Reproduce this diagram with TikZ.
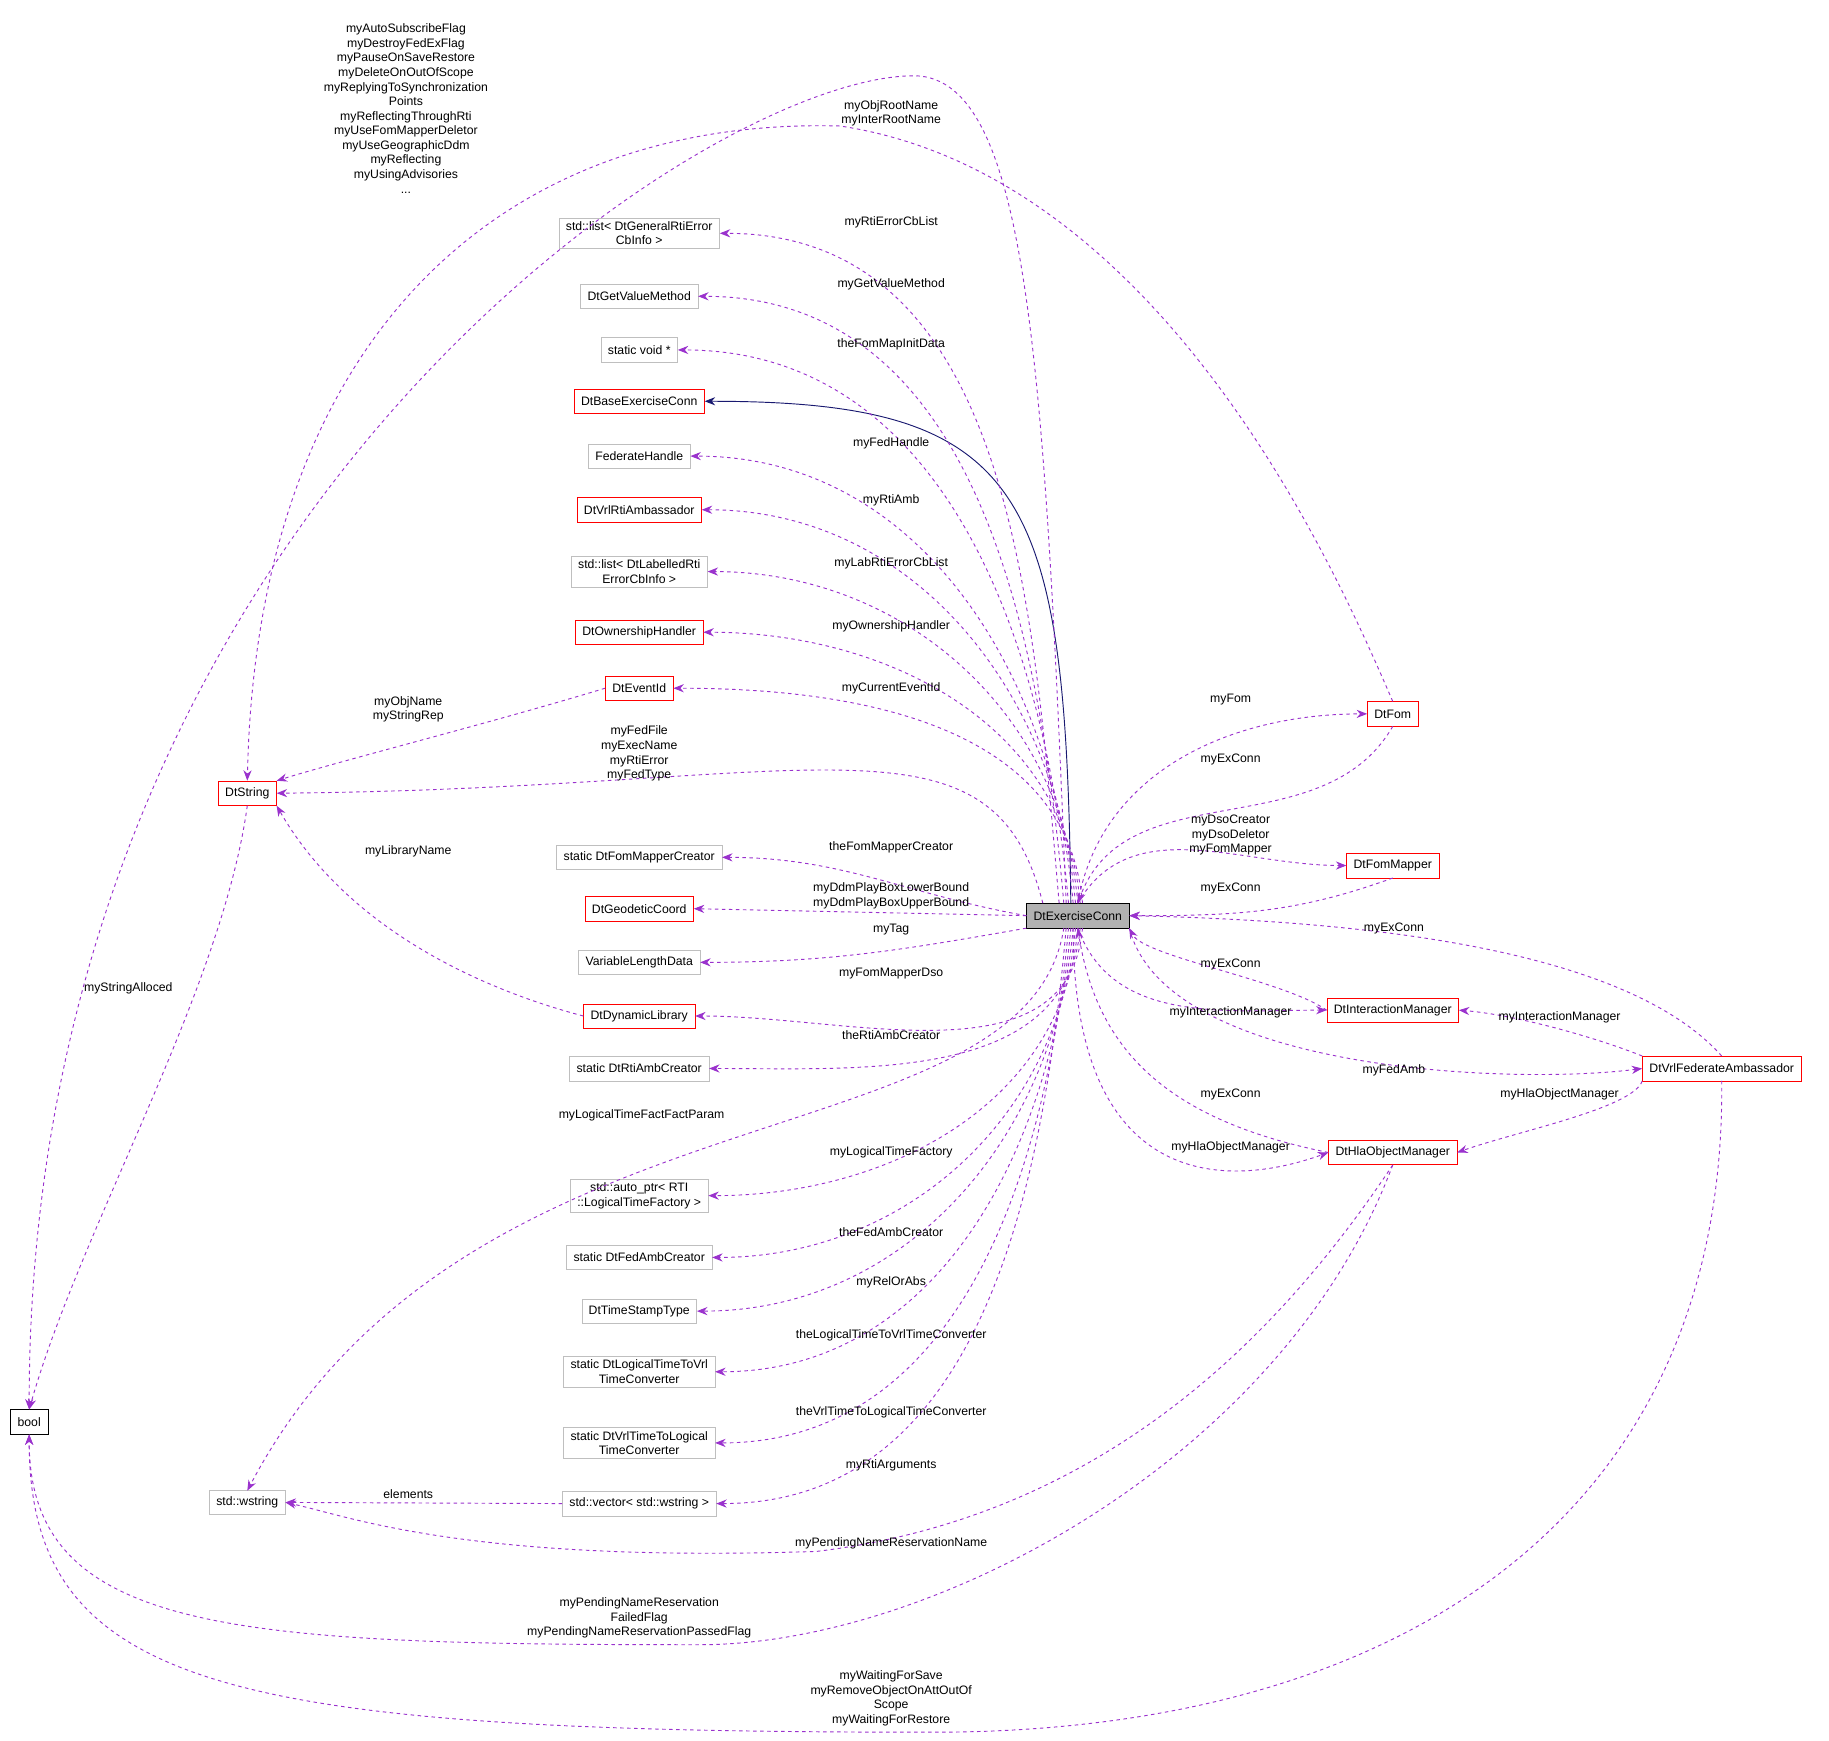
\documentclass[tikz,border=0pt]{standalone}
\usepackage{fontspec}
\setmainfont{Liberation Sans}
\usetikzlibrary{arrows.meta}
\definecolor{dep}{HTML}{9A32CD}
\definecolor{inh}{HTML}{191970}
\begin{document}
\begin{tikzpicture}[x=1pt,y=-1pt,font=\fontsize{10.5}{12.5}\selectfont,
 box/.style={draw=#1,fill=white,inner xsep=6pt,inner ysep=3pt,minimum height=21pt,align=center},
 gb/.style={box=black!25}, rb/.style={box=red}, bb/.style={box=black},
 dp/.style={draw=dep,dashed,thick,-{Stealth[length=9pt,width=7pt]}},
 lb/.style={align=center,inner sep=0pt}]
\useasboundingbox (0,0) rectangle (1568,1492);
\node[box=black,fill=black!30] (ex) at (924,785) {DtExerciseConn};
\node[gb] (l1) at (548,200) {std::list< DtGeneralRtiError\\CbInfo >};
\node[gb] (l2) at (548,254) {DtGetValueMethod};
\node[gb] (l3) at (548,300) {static void *};
\node[rb] (l4) at (548,344) {DtBaseExerciseConn};
\node[gb] (l5) at (548,391) {FederateHandle};
\node[rb] (l6) at (548,437) {DtVrlRtiAmbassador};
\node[gb] (l7) at (548,490) {std::list< DtLabelledRti\\ErrorCbInfo >};
\node[rb] (l8) at (548,542) {DtOwnershipHandler};
\node[rb] (l9) at (548,590) {DtEventId};
\node[gb] (l10) at (548,735) {static DtFomMapperCreator};
\node[rb] (l11) at (548,779) {DtGeodeticCoord};
\node[gb] (l12) at (548,825) {VariableLengthData};
\node[rb] (l13) at (548,871) {DtDynamicLibrary};
\node[gb] (l14) at (548,916) {static DtRtiAmbCreator};
\node[gb] (l15) at (548,1025) {std::auto\_ptr< RTI\\::LogicalTimeFactory >};
\node[gb] (l16) at (548,1078) {static DtFedAmbCreator};
\node[gb] (l17) at (548,1124) {DtTimeStampType};
\node[gb] (l18) at (548,1176) {static DtLogicalTimeToVrl\\TimeConverter};
\node[gb] (l19) at (548,1237) {static DtVrlTimeToLogical\\TimeConverter};
\node[gb] (l20) at (548,1289) {std::vector< std::wstring >};
\node[gb] (ws) at (212,1288) {std::wstring};
\node[rb] (str) at (212,680) {DtString};
\node[bb] (bool) at (25,1219) {bool};
\node[rb] (fom) at (1194,612) {DtFom};
\node[rb] (fm) at (1194,742) {DtFomMapper};
\node[rb] (im) at (1194,866) {DtInteractionManager};
\node[rb] (vfa) at (1476,916) {DtVrlFederateAmbassador};
\node[rb] (hom) at (1194,988) {DtHlaObjectManager};

\draw[draw=inh,thick,-{Stealth[length=9pt,width=7pt]}] (ex.north) ++(-6,0) .. controls (914,420) and (880,344) .. (l4.east);
\foreach \t/\d in {l1/16,l2/12,l3/8,l5/4,l6/2,l7/0,l8/-2,l9/-4}
  \draw[dp] (ex.north) ++(-\d,0) to[out=95,in=0] (\t.east);
\draw[dp] (ex.west) to[out=170,in=0] (l10.east);
\draw[dp] (ex.west) -- (l11.east);
\draw[dp] (ex.south west) to[out=190,in=0] (l12.east);
\foreach \t/\d in {l13/-4,l14/-2,l15/0,l16/2,l17/4,l18/6,l19/8,l20/10}
  \draw[dp] (ex.south) ++(-\d,0) to[out=265,in=0] (\t.east);
\draw[dp] (ex.north) ++(-30,0) .. controls (850,600) and (700,676) .. (str.east);
\draw[dp] (l9.west) .. controls (420,620) and (300,650) .. (str.north east);
\draw[dp] (l13.west) .. controls (420,850) and (300,800) .. (str.south east);
\draw[dp] (str.south) .. controls (190,850) and (70,1050) .. (bool.north);
\draw[dp] (ex.north) ++(-10,0) .. controls (895,300) and (880,60) .. (780,65) .. controls (600,70) and (25,450) .. (bool.north);
\draw[dp] (fom.north) .. controls (1150,500) and (1000,150) .. (720,108) .. controls (420,100) and (220,300) .. (str.north);
\draw[dp] (ex.south) ++(-12,0) .. controls (880,1000) and (400,920) .. (212,1278);
\draw[dp] (l20.west) -- (ws.east);
\draw[dp] (hom.south) .. controls (1100,1140) and (950,1300) .. (700,1330) .. controls (400,1340) and (300,1300) .. (ws.east);
\draw[dp] (hom.south) .. controls (1100,1250) and (800,1410) .. (600,1410) .. controls (200,1410) and (25,1400) .. (bool.south);
\draw[dp] (vfa.south) .. controls (1480,1300) and (1200,1485) .. (800,1485) .. controls (200,1485) and (25,1450) .. (bool.south);
\draw[dp] (ex.north) to[out=80,in=180] (fom.west);
\draw[dp] (fom.south) to[out=240,in=70] (ex.north);
\draw[dp] (ex.north) to[out=60,in=180] (fm.west);
\draw[dp] (fm.south) to[out=200,in=0] (ex.east);
\draw[dp] (vfa.north) .. controls (1400,820) and (1200,790) .. (ex.east);
\draw[dp] (im.west) .. controls (1100,840) and (980,820) .. (ex.south east);
\draw[dp] (ex.south) to[out=-70,in=180] (im.west);
\draw[dp] (ex.south east) .. controls (1000,920) and (1300,930) .. (vfa.west);
\draw[dp] (vfa.north west) .. controls (1370,890) and (1300,870) .. (im.east);
\draw[dp] (vfa.south west) .. controls (1400,950) and (1300,970) .. (hom.east);
\draw[dp] (hom.west) .. controls (1000,960) and (940,900) .. (ex.south);
\draw[dp] (ex.south) ++(-4,0) .. controls (920,1020) and (1050,1020) .. (hom.west);

\node[lb] (t0) at (348,93) {myAutoSubscribeFlag\\myDestroyFedExFlag\\myPauseOnSaveRestore\\myDeleteOnOutOfScope\\myReplyingToSynchronization\\Points\\myReflectingThroughRti\\myUseFomMapperDeletor\\myUseGeographicDdm\\myReflecting\\myUsingAdvisories\\...};
\node[lb] (t1) at (764,97) {myObjRootName\\myInterRootName};
\node[lb] (t2) at (764,191) {myRtiErrorCbList};
\node[lb] (t3) at (764,244) {myGetValueMethod};
\node[lb] (t4) at (764,295) {theFomMapInitData};
\node[lb] (t5) at (764,380) {myFedHandle};
\node[lb] (t6) at (764,429) {myRtiAmb};
\node[lb] (t7) at (764,483) {myLabRtiErrorCbList};
\node[lb] (t8) at (764,537) {myOwnershipHandler};
\node[lb] (t9) at (764,590) {myCurrentEventId};
\node[lb] (t10) at (350,608) {myObjName\\myStringRep};
\node[lb] (t11) at (548,646) {myFedFile\\myExecName\\myRtiError\\myFedType};
\node[lb] (t12) at (350,730) {myLibraryName};
\node[lb] (t13) at (764,726) {theFomMapperCreator};
\node[lb] (t14) at (764,768) {myDdmPlayBoxLowerBound\\myDdmPlayBoxUpperBound};
\node[lb] (t15) at (764,797) {myTag};
\node[lb] (t16) at (764,835) {myFomMapperDso};
\node[lb] (t17) at (110,847) {myStringAlloced};
\node[lb] (t18) at (764,887) {theRtiAmbCreator};
\node[lb] (t19) at (550,956) {myLogicalTimeFactFactParam};
\node[lb] (t20) at (764,988) {myLogicalTimeFactory};
\node[lb] (t21) at (764,1056) {theFedAmbCreator};
\node[lb] (t22) at (764,1099) {myRelOrAbs};
\node[lb] (t23) at (764,1145) {theLogicalTimeToVrlTimeConverter};
\node[lb] (t24) at (764,1211) {theVrlTimeToLogicalTimeConverter};
\node[lb] (t25) at (764,1256) {myRtiArguments};
\node[lb] (t26) at (350,1281) {elements};
\node[lb] (t27) at (764,1323) {myPendingNameReservationName};
\node[lb] (t28) at (548,1387) {myPendingNameReservation\\FailedFlag\\myPendingNameReservationPassedFlag};
\node[lb] (t29) at (764,1456) {myWaitingForSave\\myRemoveObjectOnAttOutOf\\Scope\\myWaitingForRestore};
\node[lb] (t30) at (1055,600) {myFom};
\node[lb] (t31) at (1055,651) {myExConn};
\node[lb] (t32) at (1055,716) {myDsoCreator\\myDsoDeletor\\myFomMapper};
\node[lb] (t33) at (1055,762) {myExConn};
\node[lb] (t34) at (1195,796) {myExConn};
\node[lb] (t35) at (1055,827) {myExConn};
\node[lb] (t36) at (1055,868) {myInteractionManager};
\node[lb] (t37) at (1337,872) {myInteractionManager};
\node[lb] (t38) at (1195,918) {myFedAmb};
\node[lb] (t39) at (1055,938) {myExConn};
\node[lb] (t40) at (1337,938) {myHlaObjectManager};
\node[lb] (t41) at (1055,984) {myHlaObjectManager};
\end{tikzpicture}
\end{document}
